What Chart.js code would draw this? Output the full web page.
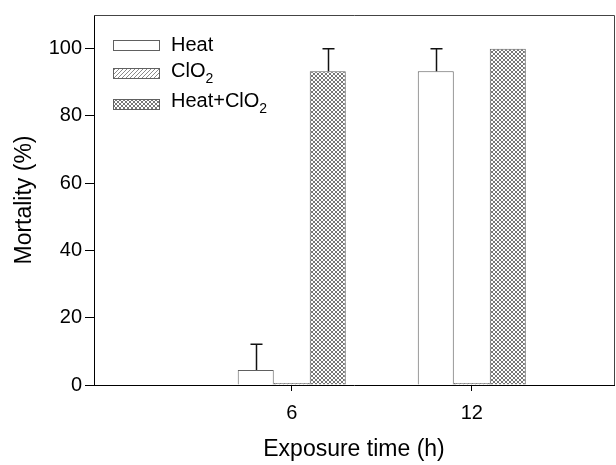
<!DOCTYPE html>
<html>
<head>
<meta charset="utf-8">
<script src="https://cdn.jsdelivr.net/npm/chart.js@4.4.1/dist/chart.umd.min.js"></script>
<style>
  html, body { margin: 0; padding: 0; background: #fff; }
  #wrap { width: 616px; height: 465px; }
</style>
</head>
<body>
<div id="wrap"><canvas id="mortChart" width="616" height="465"></canvas></div>
<script>
// Values
const times = [6, 12];
const heat = [4.44, 93.3];
const heatErr = [7.7, 6.7];
const clo2 = [0.6, 0.6];
const clo2Err = [0, 0];
const combo = [93.3, 100];
const comboErr = [6.7, 0];
const seriesNames = ["Heat", "ClO₂", "Heat+ClO₂"];
const yTicks = [0, 20, 40, 60, 80, 100];

Chart.defaults.font.family = "'Liberation Sans', Arial, sans-serif";
Chart.defaults.color = "#000";

const canvas = document.getElementById("mortChart");
const ctx = canvas.getContext("2d");

// fill patterns
function makePattern(cross) {
    const c = document.createElement("canvas");
    c.width = 4; c.height = 4;
    const g = c.getContext("2d");
    g.fillStyle = "#fff";
    g.fillRect(0, 0, 4, 4);
    g.strokeStyle = cross ? "#767676" : "#8a8a8a";
    g.lineWidth = 1;
    g.beginPath();
    g.moveTo(0, 4); g.lineTo(4, 0);
    g.moveTo(-1, 1); g.lineTo(1, -1);
    g.moveTo(3, 5); g.lineTo(5, 3);
    if (cross) {
        g.moveTo(0, 0); g.lineTo(4, 4);
        g.moveTo(-1, 3); g.lineTo(1, 5);
        g.moveTo(3, -1); g.lineTo(5, 1);
    }
    g.stroke();
    return ctx.createPattern(c, "repeat");
}

const toPoints = vals => vals.map((v, i) => ({ x: times[i], y: v }));

// text with the ₂ drawn as a lowered small 2
function drawSubText(c, text, x, y) {
    let cx = x;
    for (const ch of text) {
        if (ch === "₂") {
            c.font = "14px 'Liberation Sans', Arial, sans-serif";
            c.fillText("2", cx, y + 6);
            cx += c.measureText("2").width;
        } else {
            c.font = "20px 'Liberation Sans', Arial, sans-serif";
            c.fillText(ch, cx, y);
            cx += c.measureText(ch).width;
        }
    }
}

const legendPlugin = {
    id: "boxLegend",
    afterDraw(chart) {
        const c = chart.ctx;
        const rows = [{ box: 40, base: 51 }, { box: 68, base: 77 }, { box: 99, base: 107 }];
        chart.data.datasets.forEach((ds, i) => {
            c.save();
            c.fillStyle = ds.backgroundColor;
            c.fillRect(113.5, rows[i].box + 0.5, 46, 10);
            c.strokeStyle = ds.borderColor;
            c.lineWidth = 1;
            c.strokeRect(113.5, rows[i].box + 0.5, 46, 10);
            c.fillStyle = "#000";
            c.textBaseline = "alphabetic";
            drawSubText(c, ds.label, 171, rows[i].base);
            c.restore();
        });
    }
};

const errorPlugin = {
    id: "errBars",
    afterDatasetsDraw(chart) {
        const c = chart.ctx;
        const yScale = chart.scales.y;
        chart.data.datasets.forEach((ds, di) => {
            const meta = chart.getDatasetMeta(di);
            meta.data.forEach((bar, j) => {
                const e = ds.errors[j];
                if (!e) return;
                const yTop = yScale.getPixelForValue(ds.data[j].y + e);
                const x = Math.round(bar.x) + 0.5;
                c.save();
                c.strokeStyle = "#111";
                c.lineWidth = 1.5;
                c.beginPath();
                c.moveTo(x, bar.y);
                c.lineTo(x, yTop);
                c.moveTo(x - 6, yTop);
                c.lineTo(x + 6, yTop);
                c.stroke();
                c.restore();
            });
        });
    }
};

const framePlugin = {
    id: "frame",
    afterDraw(chart) {
        const a = chart.chartArea;
        const c = chart.ctx;
        c.save();
        c.strokeStyle = "#444";
        c.lineWidth = 1;
        c.beginPath();
        c.moveTo(a.left, a.top + 0.5);
        c.lineTo(a.right + 0.5, a.top + 0.5);
        c.lineTo(a.right + 0.5, a.bottom);
        c.stroke();
        c.restore();
    }
};

new Chart(ctx, {
    type: "bar",
    data: {
        datasets: [
            { label: seriesNames[0], data: toPoints(heat), errors: heatErr,
              backgroundColor: "#fff", borderColor: "#606060", borderWidth: 1 },
            { label: seriesNames[1], data: toPoints(clo2), errors: clo2Err,
              backgroundColor: makePattern(false), borderColor: "#606060", borderWidth: 1 },
            { label: seriesNames[2], data: toPoints(combo), errors: comboErr,
              backgroundColor: makePattern(true), borderColor: "#606060", borderWidth: 1 }
        ]
    },
    options: {
        responsive: false,
        animation: false,
        devicePixelRatio: 1,
        categoryPercentage: 0.6,
        barPercentage: 1,
        layout: { padding: { top: 9, right: 2, left: 0, bottom: 0 } },
        plugins: { legend: { display: false }, tooltip: { enabled: false } },
        scales: {
            x: {
                type: "linear",
                min: -0.59,
                max: 16.74,
                offset: false,
                afterBuildTicks: s => { s.ticks = times.map(v => ({ value: v })); },
                afterFit: s => { s.height = 80; },
                ticks: { font: { size: 20 }, color: "#000", padding: 10, maxRotation: 0 },
                grid: { drawOnChartArea: false, drawTicks: true, tickLength: 6, color: "#000", offset: false },
                border: { color: "#000", width: 1 },
                title: { display: true, text: "Exposure time (h)", font: { size: 23 }, color: "#000",
                         padding: { top: 0, bottom: 2 } }
            },
            y: {
                min: 0,
                max: 110,
                afterBuildTicks: s => { s.ticks = yTicks.map(v => ({ value: v })); },
                afterFit: s => { s.width = 94; },
                ticks: { font: { size: 20 }, color: "#000", padding: 3 },
                grid: { drawOnChartArea: false, drawTicks: true, tickLength: 9, color: "#000" },
                border: { color: "#000", width: 1 },
                title: { display: true, text: "Mortality (%)", font: { size: 23 }, color: "#000",
                         padding: { top: 11, bottom: 0 } }
            }
        }
    },
    plugins: [errorPlugin, framePlugin, legendPlugin]
});
</script>
</body>
</html>
